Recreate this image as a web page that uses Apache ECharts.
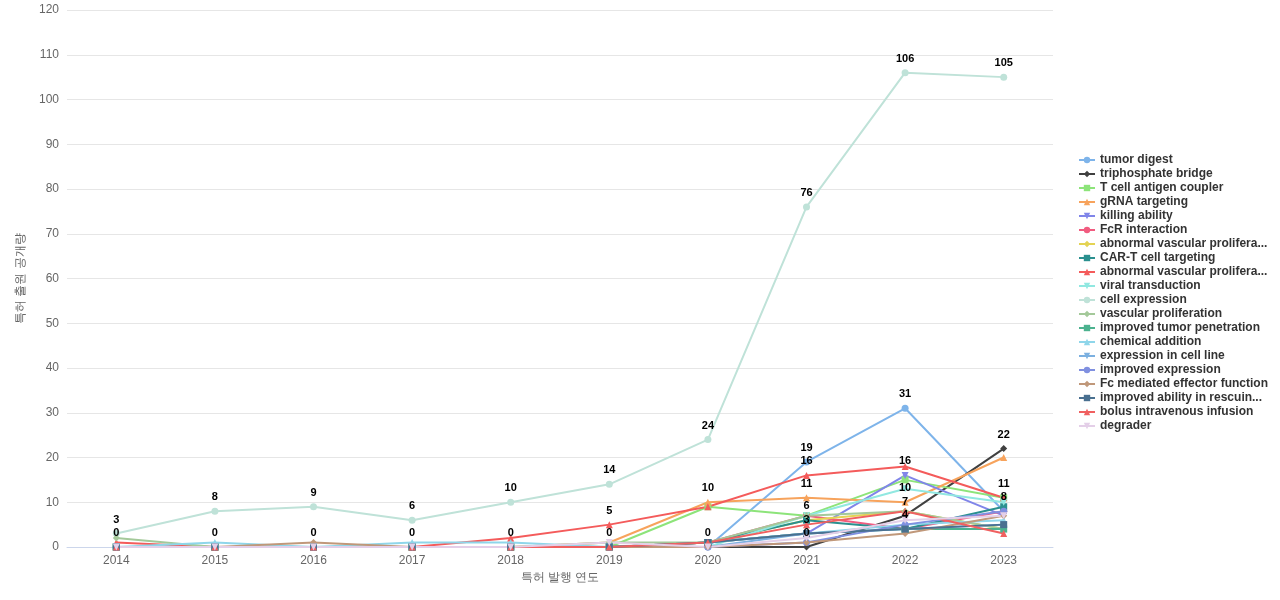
<!DOCTYPE html>
<html><head><meta charset="utf-8">
<script src="https://cdn.jsdelivr.net/npm/echarts@6/dist/echarts.min.js"></script>
<style>body{margin:0}#main{width:1280px;height:600px}</style></head>
<body><div id="main"></div>
<script>
var years = ['2014','2015','2016','2017','2018','2019','2020','2021','2022','2023'];
var names = ['tumor digest','triphosphate bridge','T cell antigen coupler','gRNA targeting','killing ability','FcR interaction',
  'abnormal vascular proliferation (a)','CAR-T cell targeting','abnormal vascular proliferation (b)','viral transduction',
  'cell expression','vascular proliferation','improved tumor penetration','chemical addition','expression in cell line',
  'improved expression','Fc mediated effector function','improved ability in rescuing','bolus intravenous infusion','degrader'];
var values = [
  [0,0,0,0,0,0,0,19,31,8],
  [0,0,0,0,0,0,0,0,7,22],
  [0,0,0,0,0,0,9,7,15,11],
  [0,0,0,0,0,1,10,11,10,20],
  [0,0,0,0,0,0,1,3,16,7],
  [0,0,0,0,0,0,1,7,4,8],
  [0,0,0,0,0,0,1,6,8,4],
  [0,0,0,0,0,0,1,6,4,9],
  [1,0,0,0,2,5,9,16,18,11],
  [0,0,0,0,0,0,0,7,13,10],
  [3,8,9,6,10,14,24,76,106,105],
  [2,0,0,0,0,1,1,7,8,4],
  [0,0,0,0,0,0,1,3,4,4],
  [0,1,0,1,1,0,1,3,5,6],
  [0,0,0,0,0,0,0,3,4,5],
  [0,0,0,0,0,0,0,1,5,8],
  [0,0,1,0,0,0,0,1,3,7],
  [0,0,0,0,0,0,1,3,4,5],
  [0,0,0,0,0,0,1,5,8,3],
  [0,0,0,0,0,1,0,2,6,7]
];
var legendNames = ['tumor digest','triphosphate bridge','T cell antigen coupler','gRNA targeting','killing ability','FcR interaction',
  'abnormal vascular prolifera...','CAR-T cell targeting','abnormal vascular prolifera...','viral transduction','cell expression',
  'vascular proliferation','improved tumor penetration','chemical addition','expression in cell line','improved expression',
  'Fc mediated effector function','improved ability in rescuin...','bolus intravenous infusion','degrader'];
var colors = ['#7eb4ea','#404040','#8de47a','#f7a35c','#8085e9','#f15c80','#e4d354','#2b908f','#f45b5b','#91e8e1',
  '#bfe2d8','#a4c99a','#4cb28f','#8fd6ea','#7cb0e0','#8090e0','#c0987a','#4a7090','#f06060','#e4cfe8'];
var symbols = ['circle','diamond','rect','triangle','path://M0,0 L10,0 L5,10 Z','circle','diamond','rect','triangle','path://M0,0 L10,0 L5,10 Z',
  'circle','diamond','rect','triangle','path://M0,0 L10,0 L5,10 Z','circle','diamond','rect','triangle','path://M0,0 L10,0 L5,10 Z'];
var labelled = [0,1,3,4,8,10,7];

var myChart = echarts.init(document.getElementById('main'));
var series = values.map(function (d, i) {
  return {
    name: names[i], type: 'line', data: d, symbol: symbols[i], symbolSize: 7,
    itemStyle: {color: colors[i]}, lineStyle: {width: 2},
    label: {show: labelled.indexOf(i) >= 0, position: 'top', color: '#000', fontWeight: 'bold', fontSize: 11}
  };
});
var option = {
  animation: false,
  grid: {left: 67, right: 227, top: 10, bottom: 53},
  legend: {
    orient: 'vertical', left: 1073, top: 149, itemWidth: 16, itemHeight: 8, itemGap: 2,
    data: names,
    formatter: function (n) { return legendNames[names.indexOf(n)]; },
    textStyle: {fontWeight: 'bold', fontSize: 12, color: '#333'}
  },
  labelLayout: {hideOverlap: true},
  xAxis: {
    type: 'category', data: years, boundaryGap: true, name: '특허 발행 연도', nameLocation: 'middle', nameGap: 25,
    nameTextStyle: {color: '#666'},
    axisLine: {lineStyle: {color: '#ccd6eb'}}, axisTick: {show: false}, axisLabel: {color: '#666'}
  },
  yAxis: {
    type: 'value', min: 0, max: 120, interval: 10, name: '특허 출원 공개량', nameLocation: 'middle', nameGap: 40,
    nameTextStyle: {color: '#666'},
    axisLabel: {color: '#666'}, splitLine: {lineStyle: {color: '#e6e6e6'}}
  },
  series: series
};
myChart.setOption(option);
</script></body></html>
